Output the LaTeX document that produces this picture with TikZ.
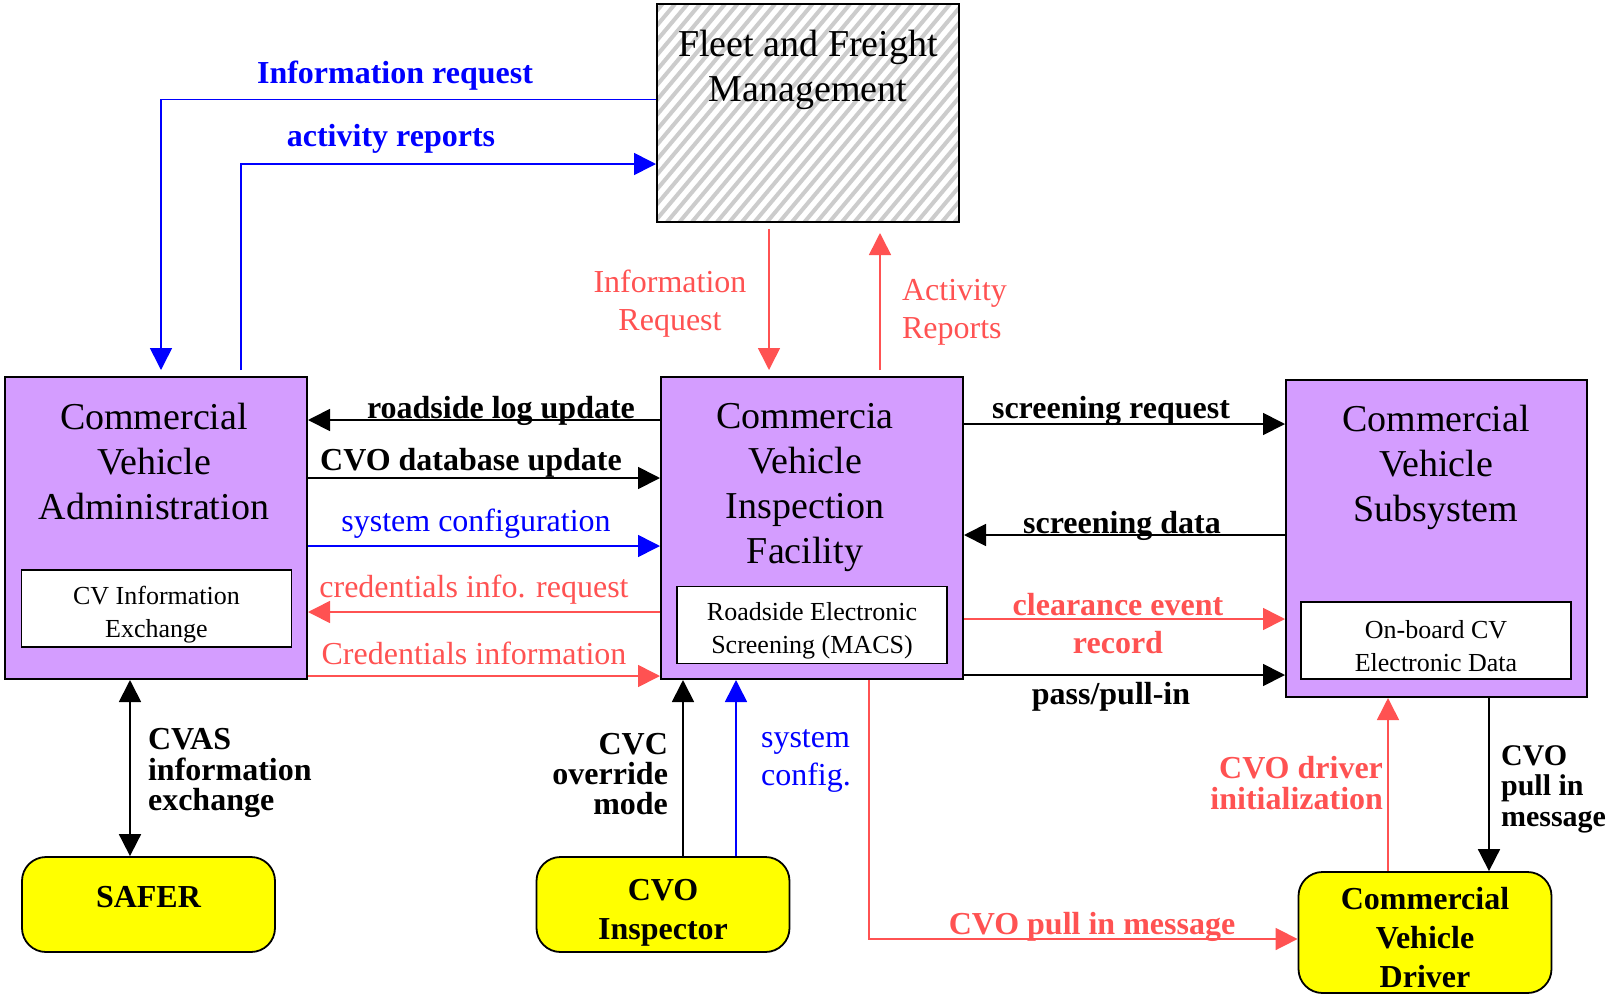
\documentclass[tikz,border=0pt]{standalone}
\usepackage{fontspec}
\setmainfont{Liberation Serif}
\usetikzlibrary{arrows.meta, positioning, calc}

\definecolor{boxpurple}{RGB}{212,157,255}
\definecolor{flowred}{RGB}{255,82,82}
\definecolor{flowblue}{RGB}{0,0,255}
\definecolor{termyellow}{RGB}{255,255,0}

\begin{document}
\begin{tikzpicture}[x=0.5pt, y=-0.5pt,
  subsys/.style={rectangle, draw=black, line width=1pt, fill=boxpurple, inner sep=0pt},
  title/.style={align=center, font=\fontsize{19}{22.5}\selectfont},
  module/.style={rectangle, draw=black, line width=0.9pt, fill=white, minimum width=135pt, minimum height=38.5pt, inner sep=0pt, align=center, font=\fontsize{13}{16.4}\selectfont},
  term/.style={rectangle, rounded corners=12pt, draw=black, line width=0.9pt, fill=termyellow, minimum width=126.5pt, inner sep=0pt, align=center, font=\bfseries\fontsize{16}{19.5}\selectfont},
  tip/.style={-{Triangle[length=11pt,width=11pt]}},
  dbltip/.style={{Triangle[length=11pt,width=11pt]}-{Triangle[length=11pt,width=11pt]}},
  blackflow/.style={tip, line width=0.9pt, draw=black},
  redflow/.style={tip, line width=0.8pt, draw=flowred},
  blueflow/.style={tip, line width=0.8pt, draw=flowblue},
  lbl/.style={align=center, font=\fontsize{16}{19}\selectfont},
  blbl/.style={align=center, font=\bfseries\fontsize{16}{19}\selectfont},
  slbl/.style={font=\bfseries\fontsize{16}{15.2}\selectfont}]
  \useasboundingbox (0,0) rectangle (1608,997);

  \node[rectangle, draw=black, line width=1pt, fill=white, minimum width=151pt, minimum height=109pt,
    path picture={
      \foreach \i in {-190,-177.5,...,310}
        \draw[gray!40, line width=2pt] ($(path picture bounding box.south west)+(\i,0)$) -- ++(183,-218);
    }] (ffm) at (808,113) {};
  \node[title] (ffmtext) at (808,70) {Fleet and Freight\\Management};

  \node[subsys, minimum width=151pt, minimum height=151pt] (cva) at (156,528) {};
  \node[title] (cvatext) at (154,461) {Commercial\\Vehicle\\Administration};
  \node[module] (cvie) at (156.5,608.5) {\rule{0pt}{15pt}CV Information\\Exchange};

  \node[subsys, minimum width=151pt, minimum height=151pt] (cvif) at (812,528) {};
  \node[title] (cviftext) at (805,488) {Commercia\\Vehicle\\Inspection\\Facility};
  \node[module] (res) at (812,625) {\rule{0pt}{15pt}Roadside Electronic\\Screening (MACS)};

  \node[subsys, minimum width=150.5pt, minimum height=158.5pt] (cvs) at (1436.5,538.5) {};
  \node[title] (cvstext) at (1436,467) {Commercial\\Vehicle\\Subsystem};
  \node[module] (obd) at (1436,640.5) {\rule{0pt}{15pt}On-board CV\\Electronic Data};

  \node[term, minimum height=47.5pt, text depth=8pt] (safer) at (148.5,904.5) {SAFER};
  \node[term, minimum height=47.5pt] (insp) at (663,904.5) {\rule{0pt}{18.5pt}CVO\\Inspector};
  \node[term, minimum height=60.5pt] (drv) at (1425,932.5) {\rule{0pt}{16.5pt}Commercial\\Vehicle\\Driver};

  \draw[blueflow, shorten >=3pt] (ffm.west |- 0,99.5) -| (cva.north -| 161,0);
  \draw[blueflow, shorten <=3pt] (cva.north -| 241,0) |- (ffm.west |- 0,164);
  \node[blbl, text=flowblue] (inforeq) at (395,76) {Information request};
  \node[blbl, text=flowblue] (actrep) at (391,139) {activity reports};

  \draw[redflow, shorten <=3pt, shorten >=3pt] (ffm.south -| 769,0) -- (cvif.north -| 769,0);
  \draw[redflow, shorten <=3pt, shorten >=5pt] (cvif.north -| 880,0) -- (ffm.south -| 880,0);
  \node[lbl, text=flowred] (inforeq2) at (670,304) {Information\\Request};
  \node[lbl, text=flowred, align=left, anchor=west] (actrep2) at (895,312) {Activity\\Reports};

  \draw[blackflow] (cvif.west |- 0,420) -- (cva.east |- 0,420);
  \draw[blackflow] (cva.east |- 0,478) -- (cvif.west |- 0,478);
  \draw[blueflow] (cva.east |- 0,546) -- (cvif.west |- 0,546);
  \draw[redflow] (cvif.west |- 0,612) -- (cva.east |- 0,612);
  \draw[redflow] (cva.east |- 0,676) -- (cvif.west |- 0,676);
  \node[blbl] (rlu) at (501,411) {roadside log update};
  \node[blbl] (cdu) at (471,463) {CVO database update};
  \node[lbl, text=flowblue] (sysconf) at (476,524) {system configuration};
  \node[lbl, text=flowred] (credreq) at (474,590) {credentials info. request};
  \node[lbl, text=flowred] (credinfo) at (474,653) {Credentials information};

  \draw[blackflow] (cvif.east |- 0,424) -- (cvs.west |- 0,424);
  \draw[blackflow] (cvs.west |- 0,535) -- (cvif.east |- 0,535);
  \draw[redflow] (cvif.east |- 0,619) -- (cvs.west |- 0,619);
  \draw[blackflow] (cvif.east |- 0,675) -- (cvs.west |- 0,675);
  \node[blbl] (scrreq) at (1111,411) {screening request};
  \node[blbl] (scrdata) at (1122,526) {screening data};
  \node[blbl, text=flowred] (clear) at (1118,624) {clearance event\\record};
  \node[blbl] (passpull) at (1111,697) {pass/pull-in};

  \draw[blackflow, dbltip] (cva.south -| 130,0) -- (safer.north -| 130,0);
  \node[slbl, align=left, anchor=west] (cvas) at (141,773) {CVAS\\information\\exchange};

  \draw[blackflow] (insp.north -| 683,0) -- (cvif.south -| 683,0);
  \draw[blueflow] (insp.north -| 736,0) -- (cvif.south -| 736,0);
  \node[slbl, align=right, anchor=east] (cvc) at (675,774) {CVC\\override\\mode};
  \node[lbl, align=left, anchor=west, text=flowblue] (sysconf2) at (754,761) {system\\config.};

  \draw[redflow] (cvif.south -| 869,0) |- (drv.west |- 0,939);
  \node[blbl, text=flowred] (pullred) at (1092,927) {CVO pull in message};

  \draw[redflow] (drv.north -| 1388,0) -- (cvs.south -| 1388,0);
  \draw[blackflow] (cvs.south -| 1489,0) -- (drv.north -| 1489,0);
  \node[slbl, align=right, anchor=east, text=flowred] (drvinit) at (1390,783) {CVO driver\\initialization};
  \node[slbl, align=left, anchor=west, font=\bfseries\fontsize{15}{15.2}\selectfont] (pullblk) at (1494,789) {CVO\\pull in\\message};
\end{tikzpicture}
\end{document}
